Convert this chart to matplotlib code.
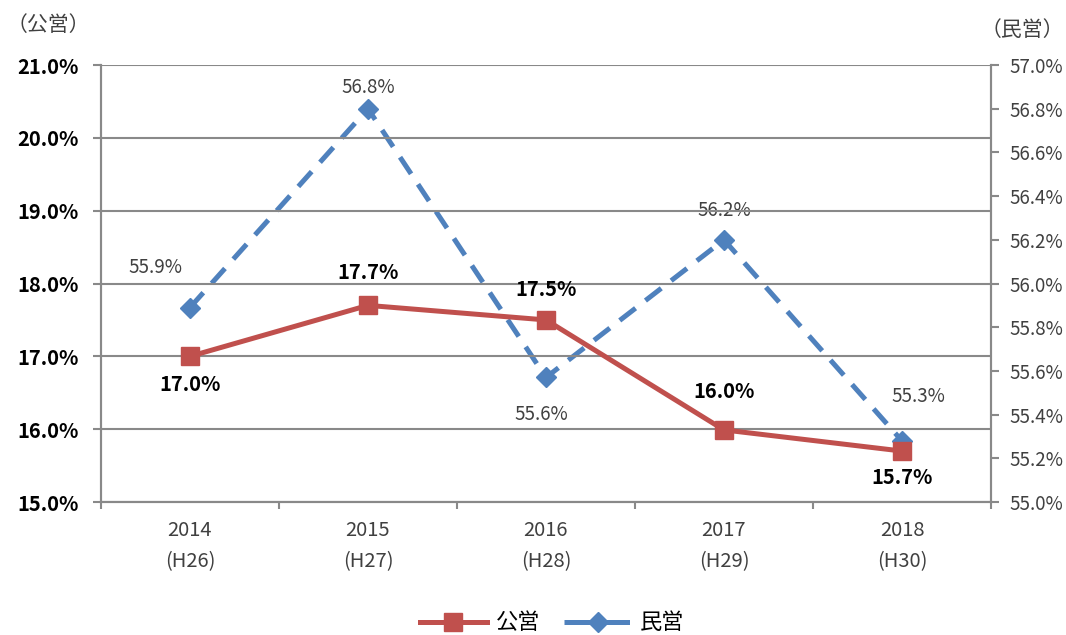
import numpy as np
import matplotlib
matplotlib.use('Agg')
import matplotlib.pyplot as plt
from matplotlib.lines import Line2D

plt.rcParams['font.family'] = ['Noto Sans CJK JP', 'DejaVu Sans']

years = ['2014\n(H26)', '2015\n(H27)', '2016\n(H28)', '2017\n(H29)', '2018\n(H30)']
public = [17.0, 17.7, 17.5, 15.99, 15.7]
private = [55.89, 56.8, 55.57, 56.2, 55.28]
public_lbl = ['17.0%', '17.7%', '17.5%', '16.0%', '15.7%']
private_lbl = ['55.9%', '56.8%', '55.6%', '56.2%', '55.3%']
left_ticks = [15, 16, 17, 18, 19, 20, 21]
right_ticks = [55.0, 55.2, 55.4, 55.6, 55.8, 56.0, 56.2, 56.4, 56.6, 56.8, 57.0]

red = '#C0504D'
blue = '#4F81BD'
grey = '#898989'
txt = '#404040'

fig = plt.figure(figsize=(10.66, 6.35), dpi=100)
ax1 = fig.add_axes([0.0947, 0.2094, 0.8349, 0.6882])
ax2 = ax1.twinx()

x = np.arange(len(years))

ax1.set_xlim(-0.5, 4.5)
ax1.set_ylim(15, 21)
ax2.set_ylim(55, 57)
ax1.set_yticks(left_ticks)
ax1.set_yticklabels(['%.1f%%' % v for v in left_ticks], fontweight='bold', fontsize=14.5)
ax2.set_yticks(right_ticks)
ax2.set_yticklabels(['%.1f%%' % v for v in right_ticks], fontsize=13.5, color=txt)
ax1.set_xticks(x)
ax1.set_xticklabels(years, fontsize=14.5, color=txt, linespacing=1.65)
ax1.set_xticks(np.arange(-0.5, 5, 1), minor=True)
ax1.tick_params(axis='x', which='major', length=0, pad=13)
ax1.tick_params(axis='x', which='minor', length=5, color=grey, width=1.5)
ax1.tick_params(axis='y', length=6, color=grey, width=1.5, pad=10)
ax2.tick_params(axis='y', length=6, color=grey, width=1.5, pad=7.5)

ax1.grid(axis='y', color=grey, lw=1.5)
ax1.set_axisbelow(True)
for ax in (ax1, ax2):
    ax.spines['top'].set_visible(False)
    for s in ('left', 'right', 'bottom'):
        ax.spines[s].set_color(grey)
        ax.spines[s].set_linewidth(1.5)

# 公営 drawn above 民営
ax2.set_zorder(0)
ax1.set_zorder(1)
ax1.patch.set_visible(False)

ax2.plot(x, private, color=blue, lw=3.6, ls=(0, (4, 2.5)), marker='D',
         markersize=10)
ax1.plot(x, public, color=red, lw=3.6, marker='s', markersize=12.5)

pub_off = [(0, -20), (0, 24), (0, 22), (0, 28), (0, -19)]
for i in range(len(x)):
    ax1.annotate(public_lbl[i], (x[i], public[i]), xytext=pub_off[i],
                 textcoords='offset points', ha='center', va='center',
                 fontsize=14.5, fontweight='bold', color='black')

pri_off = [(-25, 29), (0, 15), (-3, -27), (0, 21), (12, 32)]
for i in range(len(x)):
    ax2.annotate(private_lbl[i], (x[i], private[i]), xytext=pri_off[i],
                 textcoords='offset points', ha='center', va='center',
                 fontsize=13.5, color=txt)

fig.text(0.006, 0.96, '（公営）', fontsize=15, color=txt, va='center')
fig.text(0.998, 0.952, '（民営）', fontsize=15, color=txt, va='center', ha='right')

# legend handles (dash pattern tuned so the short sample reads like the original)
h1 = Line2D([], [], color=red, lw=3.6, marker='s', markersize=12.5)
h2 = Line2D([], [], color=blue, lw=3.6, ls=(0, (5.3, 2.5)), marker='D', markersize=10)
fig.legend(handles=[h1, h2], labels=['公営', '民営'], loc='center',
           bbox_to_anchor=(0.518, 0.019), ncol=2, frameon=False, fontsize=16,
           handlelength=3.0, handletextpad=0.4, columnspacing=1.1, borderpad=0)

plt.savefig('out.png')
